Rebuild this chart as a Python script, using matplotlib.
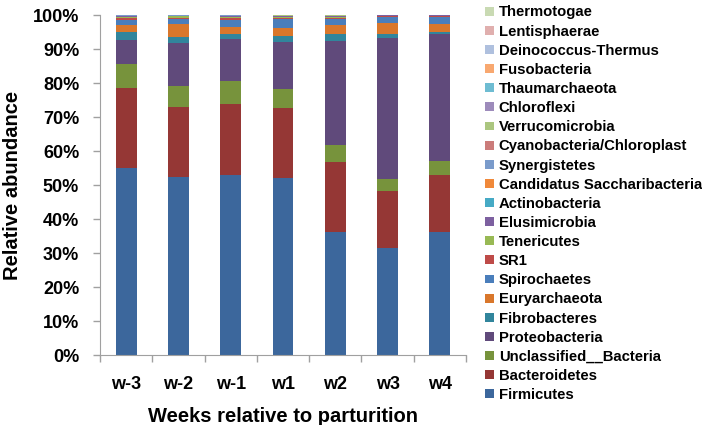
import matplotlib
matplotlib.use("Agg")
import matplotlib.pyplot as plt
import numpy as np
from matplotlib.ticker import FixedLocator, PercentFormatter
from matplotlib.patches import Patch

weeks = ["w-3", "w-2", "w-1", "w1", "w2", "w3", "w4"]

Firmicutes = [55.0, 52.4, 53.0, 52.0, 36.1, 31.6, 36.1]
Bacteroidetes = [23.4, 20.6, 20.8, 20.7, 20.8, 16.6, 16.8]
Unclassified_Bacteria = [7.2, 6.1, 6.7, 5.4, 4.8, 3.6, 4.1]
Proteobacteria = [7.0, 12.6, 12.5, 14.1, 30.8, 41.3, 37.3]
Fibrobacteres = [2.5, 1.8, 1.3, 1.7, 1.9, 1.3, 0.6]
Euryarchaeota = [2.0, 3.9, 2.2, 2.2, 2.6, 3.2, 2.5]
Spirochaetes = [1.4, 1.5, 2.0, 2.7, 1.7, 1.7, 1.9]
SR1 = [0.7, 0.2, 0.7, 0.4, 0.5, 0.5, 0.5]
Tenericutes = [0.1, 0.5, 0.1, 0.3, 0.3, 0.05, 0.05]
Elusimicrobia = [0.3, 0.1, 0.4, 0.1, 0.1, 0.05, 0.05]
Actinobacteria = [0.15, 0.1, 0.1, 0.1, 0.1, 0.03, 0.03]
Candidatus_Saccharibacteria = [0.05, 0.05, 0.05, 0.05, 0.05, 0.02, 0.02]
Synergistetes = [0.1, 0.05, 0.1, 0.05, 0.05, 0.02, 0.02]
Cyanobacteria_Chloroplast = [0.05, 0.05, 0.05, 0.05, 0.05, 0.02, 0.02]
Verrucomicrobia = [0.05, 0.1, 0.05, 0.1, 0.1, 0.02, 0.02]
Chloroflexi = [0.02, 0.02, 0.02, 0.02, 0.02, 0.01, 0.01]
Thaumarchaeota = [0.02, 0.02, 0.02, 0.02, 0.02, 0.01, 0.01]
Fusobacteria = [0.01, 0.01, 0.01, 0.01, 0.01, 0.01, 0.01]
Deinococcus_Thermus = [0.01, 0.01, 0.01, 0.01, 0.01, 0.01, 0.01]
Lentisphaerae = [0.01, 0.01, 0.01, 0.01, 0.01, 0.01, 0.01]
Thermotogae = [0.01, 0.01, 0.01, 0.01, 0.01, 0.01, 0.01]

series_names = ["Firmicutes", "Bacteroidetes", "Unclassified__Bacteria", "Proteobacteria",
                "Fibrobacteres", "Euryarchaeota", "Spirochaetes", "SR1", "Tenericutes",
                "Elusimicrobia", "Actinobacteria", "Candidatus Saccharibacteria",
                "Synergistetes", "Cyanobacteria/Chloroplast", "Verrucomicrobia",
                "Chloroflexi", "Thaumarchaeota", "Fusobacteria", "Deinococcus-Thermus",
                "Lentisphaerae", "Thermotogae"]
series_values = [Firmicutes, Bacteroidetes, Unclassified_Bacteria, Proteobacteria,
                 Fibrobacteres, Euryarchaeota, Spirochaetes, SR1, Tenericutes,
                 Elusimicrobia, Actinobacteria, Candidatus_Saccharibacteria,
                 Synergistetes, Cyanobacteria_Chloroplast, Verrucomicrobia,
                 Chloroflexi, Thaumarchaeota, Fusobacteria, Deinococcus_Thermus,
                 Lentisphaerae, Thermotogae]
colors = ["#3C679C", "#953735", "#77933C", "#604A7B", "#31859C", "#D9772B",
          "#4A7EBB", "#BE4B48", "#98B954", "#7D60A0", "#46AAC5", "#F0893A",
          "#7A9BCB", "#CB7C7A", "#ABC67F", "#9D8BBB", "#6EBCD2", "#F8A870",
          "#AFC0DE", "#E0AFAE", "#C9DAB3"]

plt.rcParams['font.family'] = ['Liberation Sans', 'DejaVu Sans']
fig = plt.figure(figsize=(7.02, 4.25), dpi=100)
ax = fig.add_axes([100/702, 70/425, 366/702, 340/425])

x = np.arange(len(weeks))
bottom = np.zeros(len(weeks))
handles = []
for name, vals, c in zip(series_names, series_values, colors):
    v = np.array(vals, dtype=float)
    ax.bar(x, v, bottom=bottom, width=0.4, color=c, linewidth=0)
    bottom += v
    handles.append(Patch(facecolor=c, edgecolor='none', label=name))

ax.set_xlim(-0.5, len(weeks) - 0.5)
ax.set_ylim(0, 100)
ax.set_yticks(np.arange(0, 101, 10))
ax.yaxis.set_major_formatter(PercentFormatter(decimals=0))
ax.set_xticks(x)
ax.set_xticklabels(weeks)
ax.xaxis.set_minor_locator(FixedLocator(np.arange(-0.5, len(weeks), 1.0)))
ax.tick_params(axis='x', which='major', length=0, pad=15, labelsize=13)
ax.tick_params(axis='x', which='minor', length=5, color='#A0A0A0', width=1)
ax.tick_params(axis='y', length=5, color='#A0A0A0', width=1, labelsize=13, pad=10)
for lab in ax.get_xticklabels() + ax.get_yticklabels():
    lab.set_fontweight('bold')
for s in ['top', 'right']:
    ax.spines[s].set_visible(False)
for s in ['left', 'bottom']:
    ax.spines[s].set_color('#A0A0A0')
ax.set_ylabel("Relative abundance", fontsize=14.5, fontweight='bold', labelpad=8)
ax.set_xlabel("Weeks relative to parturition", fontsize=14.5, fontweight='bold', labelpad=10)

leg = fig.legend(handles=handles[::-1], loc='upper left', bbox_to_anchor=(484/702, 1.0 - 4/425),
                 frameon=False, prop={'weight': 'bold', 'size': 10.7},
                 handlelength=0.55, handleheight=0.55, handletextpad=0.35,
                 labelspacing=0.345, borderaxespad=0, borderpad=0.1)

fig.savefig("out.png", dpi=100)
